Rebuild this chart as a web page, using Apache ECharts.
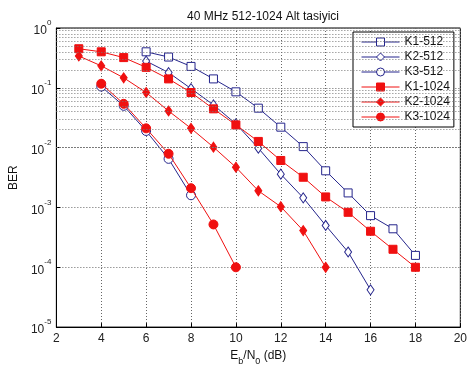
<!DOCTYPE html>
<html>
<head>
<meta charset="utf-8">
<script src="https://cdn.jsdelivr.net/npm/echarts@6/dist/echarts.min.js"></script>
<style>
  html, body { margin: 0; padding: 0; background: #fff; }
  #chart { width: 470px; height: 371px; }
</style>
</head>
<body>
<div id="chart"></div>
<script>
// Eb/N0 (dB) per curve
const xK1_512 = [6, 7, 8, 9, 10, 11, 12, 13, 14, 15, 16, 17, 18];
const xK2_512 = [6, 7, 8, 9, 10, 11, 12, 13, 14, 15, 16];
const xK3_512 = [4, 5, 6, 7, 8];
const xK1_1024 = [3, 4, 5, 6, 7, 8, 9, 10, 11, 12, 13, 14, 15, 16, 17, 18];
const xK2_1024 = [3, 4, 5, 6, 7, 8, 9, 10, 11, 12, 13, 14];
const xK3_1024 = [4, 5, 6, 7, 8, 9, 10];

// BER per curve
const berK1_512 = [0.40, 0.327, 0.228, 0.141, 0.0857, 0.0457, 0.022, 0.0104, 0.0041, 0.00175, 0.00073, 0.00044, 0.000158];
const berK2_512 = [0.28, 0.18, 0.097, 0.0518, 0.025, 0.0098, 0.0036, 0.00145, 0.0005, 0.00018, 0.000042];
const berK3_512 = [0.105, 0.05, 0.019, 0.0065, 0.0016];
const berK1_1024 = [0.45, 0.40, 0.32, 0.22, 0.141, 0.0835, 0.0445, 0.024, 0.0127, 0.0061, 0.0032, 0.0015, 0.00083, 0.0004, 0.0002, 0.0001];
const berK2_1024 = [0.34, 0.233, 0.147, 0.0835, 0.041, 0.021, 0.0102, 0.0047, 0.0019, 0.00103, 0.00041, 0.0001];
const berK3_1024 = [0.117, 0.054, 0.021, 0.0079, 0.0021, 0.00052, 0.0001];

const seriesNames = ['K1-512', 'K2-512', 'K3-512', 'K1-1024', 'K2-1024', 'K3-1024'];
const titleText = '40 MHz 512-1024 Alt tasiyici';

const BLUE = '#25258c';
const RED = '#f01010';
const FONT = '"Liberation Sans", Arial, sans-serif';

// log grid minor lines at 2..9 x 10^k
const minorLines = [];
for (let k = -5; k < 0; k++) {
  for (let m = 2; m <= 9; m++) {
    minorLines.push({ yAxis: m * Math.pow(10, k) });
  }
}

const zip = (xs, ys) => xs.map((x, i) => [x, ys[i]]);

function makeSeries(name, xs, ys, color, symbol, size, filled) {
  return {
    name,
    type: 'line',
    data: zip(xs, ys),
    symbol,
    symbolSize: size,
    showAllSymbol: true,
    lineStyle: { color, width: 1 },
    itemStyle: {
      color: filled ? color : '#fff',
      borderColor: color,
      borderWidth: 1,
    },
    emphasis: { disabled: true },
    z: filled ? 4 : 3,
  };
}

const series = [
  makeSeries(seriesNames[0], xK1_512, berK1_512, BLUE, 'rect', 8, false),
  makeSeries(seriesNames[1], xK2_512, berK2_512, BLUE, 'diamond', [7, 10], false),
  makeSeries(seriesNames[2], xK3_512, berK3_512, BLUE, 'circle', 9, false),
  makeSeries(seriesNames[3], xK1_1024, berK1_1024, RED, 'rect', 8, true),
  makeSeries(seriesNames[4], xK2_1024, berK2_1024, RED, 'diamond', [7, 10], true),
  makeSeries(seriesNames[5], xK3_1024, berK3_1024, RED, 'circle', 9, true),
];

series[0].markLine = {
  silent: true,
  symbol: 'none',
  label: { show: false },
  lineStyle: { color: '#777', width: 1, type: [1, 2] },
  data: minorLines,
  animation: false,
};

const chart = echarts.init(document.getElementById('chart'));
chart.setOption({
  animation: false,
  backgroundColor: '#fff',
  textStyle: { fontFamily: FONT },
  title: {
    text: titleText,
    left: 258,
    textAlign: 'center',
    top: 6,
    textStyle: { fontSize: 12, fontWeight: 'normal', color: '#111', fontFamily: FONT },
  },
  legend: {
    data: seriesNames,
    orient: 'vertical',
    left: 353,
    top: 32,
    padding: [4, 4, 4, 8],
    itemGap: 3,
    itemWidth: 38,
    itemHeight: 10,
    borderColor: '#000',
    borderWidth: 1,
    backgroundColor: '#fff',
    lineStyle: { width: 1 },
    itemStyle: { borderWidth: 1 },
    textStyle: { fontSize: 12, color: '#111', fontFamily: FONT },
  },
  grid: {
    left: 53,
    right: 7,
    top: 28,
    bottom: 37,
    show: true,
    borderColor: '#000',
    borderWidth: 1,
  },
  xAxis: {
    type: 'value',
    min: 2,
    max: 20,
    interval: 2,
    name: '{b|E}{s|b}{b|/N}{s|0}{b| (dB)}',
    nameLocation: 'middle',
    nameGap: 20,
    nameTextStyle: {
      rich: {
        b: { fontSize: 12, color: '#111', lineHeight: 16, verticalAlign: 'top', fontFamily: FONT },
        s: { fontSize: 9, color: '#111', lineHeight: 10, verticalAlign: 'bottom', fontFamily: FONT },
      },
    },
    axisLine: { lineStyle: { color: '#000' } },
    axisTick: { inside: true, length: 4, lineStyle: { color: '#000' } },
    axisLabel: { color: '#222', fontSize: 12, margin: 6 },
    splitLine: { show: true, lineStyle: { color: '#666', width: 1, type: [1, 2] } },
  },
  yAxis: {
    type: 'log',
    logBase: 10,
    min: 1e-5,
    max: 1,
    name: 'BER',
    nameLocation: 'middle',
    nameGap: 34,
    nameTextStyle: { fontSize: 12, color: '#111' },
    axisLine: { lineStyle: { color: '#000' } },
    axisTick: { inside: true, length: 4, lineStyle: { color: '#000' } },
    axisLabel: {
      margin: 5,
      formatter: (v) => '{b|10}{s|' + Math.round(Math.log10(v)) + '}',
      rich: {
        b: { fontSize: 12, color: '#222', lineHeight: 18, verticalAlign: 'bottom', fontFamily: FONT },
        s: { fontSize: 8, color: '#222', lineHeight: 10, verticalAlign: 'top', fontFamily: FONT },
      },
    },
    splitLine: { show: true, lineStyle: { color: '#666', width: 1, type: [1, 2] } },
  },
  series,
});
</script>
</body>
</html>
